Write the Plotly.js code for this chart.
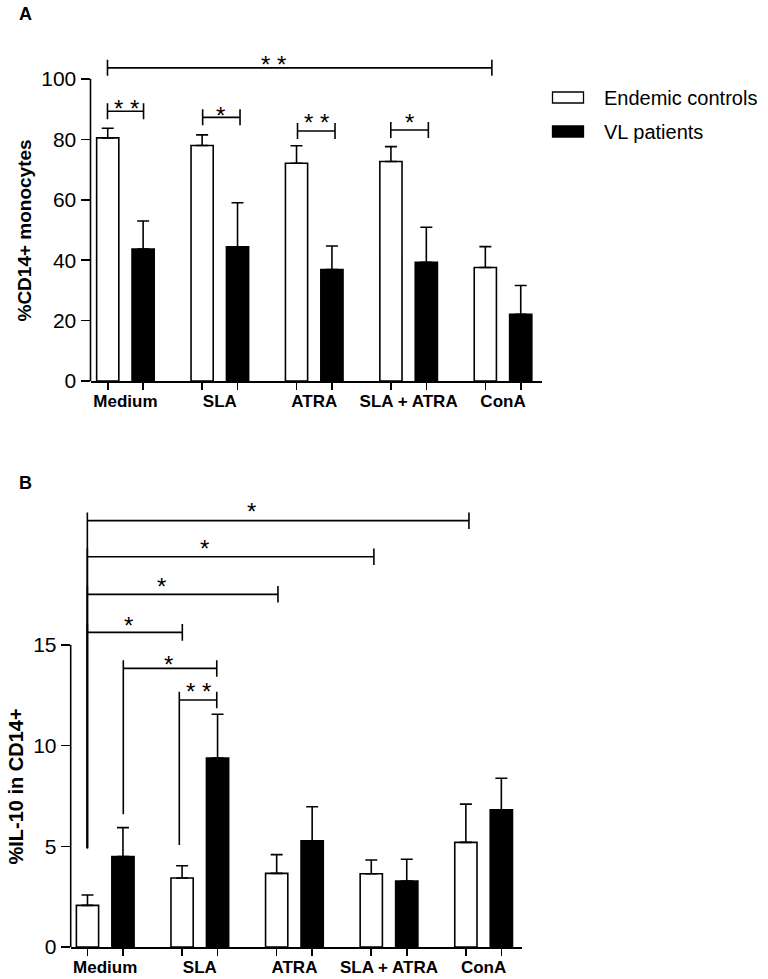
<!DOCTYPE html>
<html>
<head>
<meta charset="utf-8">
<script src="https://cdn.plot.ly/plotly-3.0.1.min.js"></script>
<style>html,body{margin:0;padding:0;background:#fff}#chart{width:768px;height:979px}</style>
</head>
<body>
<div id="chart"></div>
<script>
// ---------- data ----------
const categories = ['Medium', 'SLA', 'ATRA', 'SLA + ATRA', 'ConA'];
const seriesNames = ['Endemic controls', 'VL patients'];

// Panel A: %CD14+ monocytes
const cd14Controls    = [80.5, 78.0, 72.1, 72.7, 37.6];
const cd14ControlsErr = [3.2, 3.5, 5.8, 4.9, 6.9];
const cd14VL          = [43.7, 44.4, 36.9, 39.3, 22.1];
const cd14VLErr       = [9.3, 14.6, 7.8, 11.6, 9.5];
const cd14Ticks       = [0, 20, 40, 60, 80, 100];

// Panel B: %IL-10 in CD14+
const il10Controls    = [2.07, 3.43, 3.66, 3.64, 5.20];
const il10ControlsErr = [0.51, 0.61, 0.93, 0.68, 1.90];
const il10VL          = [4.49, 9.39, 5.27, 3.28, 6.82];
const il10VLErr       = [1.44, 2.17, 1.70, 1.08, 1.56];
const il10Ticks       = [0, 5, 10, 15];

// significance brackets, panel A (x in group units)
const sigA_x0     = [-0.19, -0.19, 0.818, 1.823, 2.811];
const sigA_x1     = [3.882, 0.192, 1.214, 2.220, 3.209];
const sigA_y      = [103.7, 89.3, 87.3, 82.8, 83.1];
const sigA_label  = ['* *', '* *', '*', '* *', '*'];
const sigA_labelX = [1.572, 0.014, 1.010, 2.028, 3.004];
const sigA_labelY = [106.5, 92.0, 89.7, 87.3, 87.3];

// significance brackets, panel B
const sigB_x0     = [-0.189, -0.189, -0.189, -0.189, 0.191, 0.783];
const sigB_x1     = [3.845, 2.840, 1.826, 0.815, 1.179, 1.179];
const sigB_y      = [21.18, 19.39, 17.52, 15.63, 13.84, 12.27];
const sigB_leftLow= [4.90, 4.90, 4.90, 4.90, 6.59, 5.07];
const sigB_label  = ['*', '*', '*', '*', '*', '* *'];
const sigB_labelX = [1.551, 1.050, 0.597, 0.244, 0.674, 0.984];
const sigB_labelY = [21.87, 20.05, 18.18, 16.21, 14.29, 12.93];

// ---------- layout helpers ----------
const W = 768, H = 979;
const FONT = 'Liberation Sans, Arial, Helvetica, sans-serif';
const px = v => v / W;
const py = v => 1 - v / H;
const OFF = 0.1875;      // half distance between paired bars
const BW = 0.235;        // bar width
const LW = 1.6;          // line width

const groupIdx = categories.map((c, i) => i);
const whiteX = groupIdx.map(i => i - OFF);
const blackX = groupIdx.map(i => i + OFF);
const barTicks = groupIdx.flatMap(i => [i - OFF, i + OFF]);

function barTrace(x, y, err, fill, xa, ya, name) {
  return {
    type: 'bar', x: x, y: y, width: BW, name: name, showlegend: false,
    xaxis: xa, yaxis: ya,
    marker: {color: fill, line: {color: '#000', width: LW}},
    error_y: {type: 'data', symmetric: false, array: err, arrayminus: err.map(() => 0),
              color: '#000', thickness: LW, width: 6},
    hoverinfo: 'skip'
  };
}

const data = [
  barTrace(whiteX, cd14Controls, cd14ControlsErr, '#fff', 'x', 'y', seriesNames[0]),
  barTrace(blackX, cd14VL, cd14VLErr, '#000', 'x', 'y', seriesNames[1]),
  barTrace(whiteX, il10Controls, il10ControlsErr, '#fff', 'x2', 'y2', seriesNames[0]),
  barTrace(blackX, il10VL, il10VLErr, '#000', 'x2', 'y2', seriesNames[1])
];

// axis geometry
const A_left = 90.5, A_right = 542.3, A_bottom = 381, A_pxPerUnit = 3.02, A_top = 110;
const B_left = 70.7, B_right = 522.3, B_bottom = 947, B_pxPerUnit = 20.13, B_top = 22.5;

function xAxis(left, right, r0, r1) {
  return {
    domain: [px(left), px(right)], range: [r0, r1],
    showline: true, linecolor: '#000', linewidth: LW,
    showgrid: false, zeroline: false,
    tickmode: 'array', tickvals: groupIdx, ticktext: categories,
    ticks: '', ticklabelstandoff: 4,
    tickfont: {family: FONT, size: 17, color: '#000', weight: 'bold'},
    minor: {tickmode: 'array', tickvals: barTicks, ticks: 'outside', ticklen: 7,
            tickwidth: LW, tickcolor: '#000', showgrid: false},
    fixedrange: true
  };
}
function yAxis(bottom, top, pxu, rmax, ticks, anchor) {
  return {
    domain: [py(bottom), py(bottom - rmax * pxu)], range: [0, rmax],
    anchor: anchor,
    showline: false, showgrid: false, zeroline: false,
    tickmode: 'array', tickvals: ticks, ticks: 'outside', ticklen: 9,
    tickwidth: LW, tickcolor: '#000',
    tickfont: {family: FONT, size: 21, color: '#000'},
    fixedrange: true
  };
}

const shapes = [];
const annotations = [];
function line(xref, yref, x0, y0, x1, y1) {
  shapes.push({type: 'line', xref: xref, yref: yref, x0: x0, y0: y0, x1: x1, y1: y1,
               line: {color: '#000', width: LW}});
}
// y-axis lines (only up to the last tick)
line('paper', 'y', px(A_left), 0, px(A_left), cd14Ticks[cd14Ticks.length - 1]);
line('paper', 'y2', px(B_left), 0, px(B_left), il10Ticks[il10Ticks.length - 1]);

const STAR = {family: FONT, size: 24, color: '#000'};
// panel A brackets
const tA = 2.65;
sigA_x0.forEach((x0, i) => {
  line('x', 'y', x0, sigA_y[i], sigA_x1[i], sigA_y[i]);
  line('x', 'y', x0, sigA_y[i] - tA, x0, sigA_y[i] + tA);
  line('x', 'y', sigA_x1[i], sigA_y[i] - tA, sigA_x1[i], sigA_y[i] + tA);
  annotations.push({xref: 'x', yref: 'y', x: sigA_labelX[i], y: sigA_labelY[i], text: sigA_label[i],
    showarrow: false, xanchor: 'center', yanchor: 'middle', yshift: -5, font: STAR});
});
// panel B brackets
const tB = 0.41;
sigB_x0.forEach((x0, i) => {
  line('x2', 'y2', x0, sigB_y[i], sigB_x1[i], sigB_y[i]);
  line('x2', 'y2', x0, sigB_leftLow[i], x0, sigB_y[i] + tB);
  line('x2', 'y2', sigB_x1[i], sigB_y[i] - tB, sigB_x1[i], sigB_y[i] + tB);
  annotations.push({xref: 'x2', yref: 'y2', x: sigB_labelX[i], y: sigB_labelY[i], text: sigB_label[i],
    showarrow: false, xanchor: 'center', yanchor: 'middle', yshift: -5, font: STAR});
});

// axis titles
annotations.push({xref: 'paper', yref: 'paper', x: px(23.5), y: py(231), text: '%CD14+ monocytes',
  textangle: -90, showarrow: false, xanchor: 'center', yanchor: 'middle',
  font: {family: FONT, size: 19, color: '#000', weight: 'bold'}});
annotations.push({xref: 'paper', yref: 'paper', x: px(15.5), y: py(787), text: '%IL-10 in CD14+',
  textangle: -90, showarrow: false, xanchor: 'center', yanchor: 'middle',
  font: {family: FONT, size: 20, color: '#000', weight: 'bold'}});
// panel letters
annotations.push({xref: 'paper', yref: 'paper', x: px(17), y: py(14.5), text: 'A', showarrow: false,
  xanchor: 'left', yanchor: 'middle', font: {family: FONT, size: 18, color: '#000', weight: 'bold'}});
annotations.push({xref: 'paper', yref: 'paper', x: px(17), y: py(483), text: 'B', showarrow: false,
  xanchor: 'left', yanchor: 'middle', font: {family: FONT, size: 18, color: '#000', weight: 'bold'}});

// legend (drawn manually to match the wide rectangular keys)
const legendFill = ['#fff', '#000'];
const legendY = [97.5, 131.5];
seriesNames.forEach((n, i) => {
  shapes.push({type: 'rect', xref: 'paper', yref: 'paper',
    x0: px(552.5), x1: px(583.5), y0: py(legendY[i] - 5.5), y1: py(legendY[i] + 5.5),
    fillcolor: legendFill[i], line: {color: '#000', width: 1.3}});
  annotations.push({xref: 'paper', yref: 'paper', x: px(602), y: py(legendY[i]), text: n,
    showarrow: false, xanchor: 'left', yanchor: 'middle',
    font: {family: FONT, size: 20, color: '#000'}});
});

const layout = {
  width: W, height: H,
  margin: {l: 0, r: 0, t: 0, b: 0},
  paper_bgcolor: '#fff', plot_bgcolor: 'rgba(0,0,0,0)',
  showlegend: false,
  barmode: 'overlay',
  font: {family: FONT, color: '#000'},
  xaxis: Object.assign(xAxis(A_left, A_right, -0.37, 4.416), {anchor: 'y'}),
  yaxis: yAxis(A_bottom, A_top, A_pxPerUnit, A_top, cd14Ticks, 'x'),
  xaxis2: Object.assign(xAxis(B_left, B_right, -0.365, 4.409), {anchor: 'y2'}),
  yaxis2: yAxis(B_bottom, B_top, B_pxPerUnit, B_top, il10Ticks, 'x2'),
  shapes: shapes,
  annotations: annotations
};

Plotly.newPlot('chart', data, layout, {displayModeBar: false, staticPlot: true});
</script>
</body>
</html>
